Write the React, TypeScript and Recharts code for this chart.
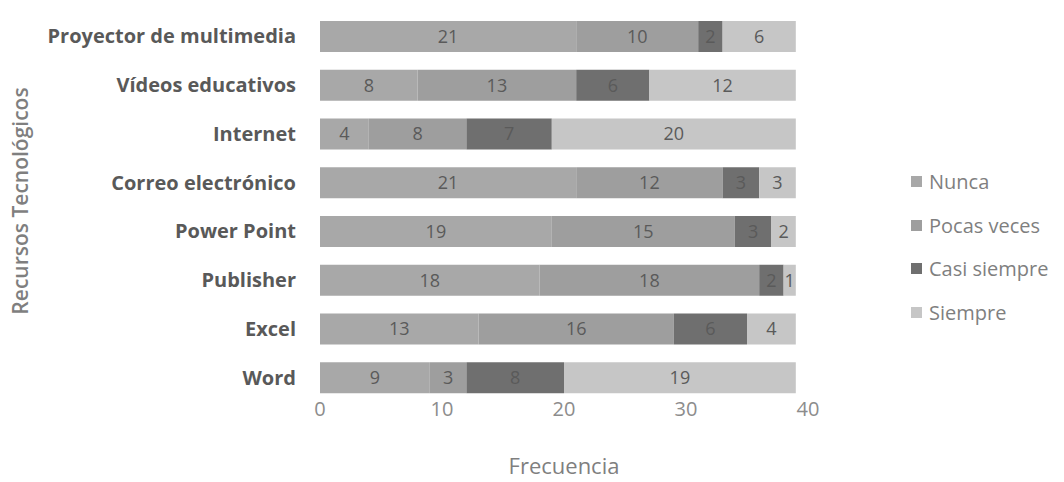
import { BarChart, Bar, XAxis, YAxis, LabelList, Label } from 'recharts';

const recursos = [
  'Proyector de multimedia',
  'Vídeos educativos',
  'Internet',
  'Correo electrónico',
  'Power Point',
  'Publisher',
  'Excel',
  'Word',
];
const nunca = [21, 8, 4, 21, 19, 18, 13, 9];
const pocasVeces = [10, 13, 8, 12, 15, 18, 16, 3];
const casiSiempre = [2, 6, 7, 3, 3, 2, 6, 8];
const siempre = [6, 12, 20, 3, 2, 1, 4, 19];
const xTicks = [0, 10, 20, 30, 40];

const SERIES = [
  { key: 'nunca', name: 'Nunca', color: '#a8a8a8' },
  { key: 'pocasVeces', name: 'Pocas veces', color: '#9e9e9e' },
  { key: 'casiSiempre', name: 'Casi siempre', color: '#6f6f6f' },
  { key: 'siempre', name: 'Siempre', color: '#c6c6c6' },
];

const data = recursos.map((r, i) => ({
  recurso: r,
  nunca: nunca[i],
  pocasVeces: pocasVeces[i],
  casiSiempre: casiSiempre[i],
  siempre: siempre[i],
}));

const FONT = '"Open Sans", sans-serif';

// legend drawn as plain html so it doesn't eat into the plot width
function LegendList() {
  return (
    <div style={{ position: 'absolute', left: 911, top: 160, fontFamily: FONT, fontSize: 20, color: '#7f7f7f' }}>
      {SERIES.map((s) => (
        <div key={s.key} style={{ display: 'flex', alignItems: 'center', height: 43.5 }}>
          <span style={{ width: 11, height: 11, background: s.color, marginRight: 7, display: 'inline-block' }} />
          {s.name}
        </div>
      ))}
    </div>
  );
}

export default function App() {
  return (
    <div style={{ position: 'relative', width: 1064, height: 482, background: '#fff' }}>
      <style>{'body{margin:0}'}</style>
      <BarChart
        width={1064}
        height={482}
        data={data}
        layout="vertical"
        margin={{ top: 12, right: 256, left: 0, bottom: 50 }}
        barCategoryGap={10}
      >
        <XAxis
          type="number"
          domain={[0, 40]}
          ticks={xTicks}
          axisLine={false}
          tickLine={false}
          tickSize={0}
          tickMargin={0}
          tick={{ fill: '#8c8c8c', fontSize: 20, fontFamily: FONT }}
        >
          <Label value="Frecuencia" position="bottom" offset={26} style={{ fill: '#7f7f7f', fontSize: 22, fontFamily: FONT }} />
        </XAxis>
        <YAxis
          type="category"
          dataKey="recurso"
          width={320}
          axisLine={false}
          tickLine={false}
          tickMargin={18}
          tick={{ fill: '#595959', fontSize: 20, fontFamily: FONT, fontWeight: 700 }}
        >
          <Label
            value="Recursos Tecnológicos"
            angle={-90}
            position="insideLeft"
            offset={21}
            dy={-6}
            style={{ fill: '#7f7f7f', fontSize: 21, fontFamily: FONT, fontWeight: 600, textAnchor: 'middle' }}
          />
        </YAxis>
        {SERIES.map((s) => (
          <Bar key={s.key} dataKey={s.key} name={s.name} stackId="a" fill={s.color} barSize={31} isAnimationActive={false}>
            <LabelList dataKey={s.key} position="center" fill="#5a5a5a" fontSize={18} fontFamily={FONT} />
          </Bar>
        ))}
      </BarChart>
      <LegendList />
    </div>
  );
}
